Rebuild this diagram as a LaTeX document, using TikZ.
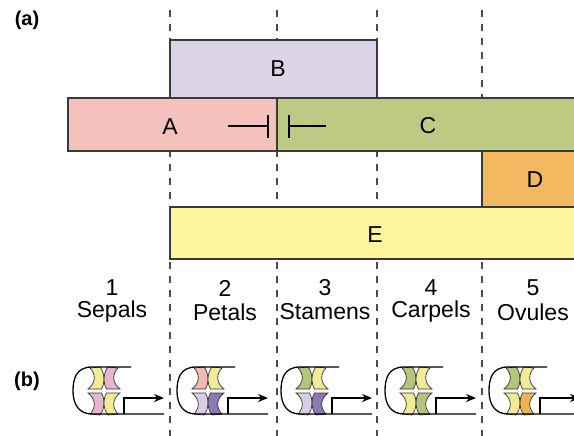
\documentclass[tikz,border=0pt]{standalone}
\usepackage{fontspec}
\setmainfont{Liberation Sans}
\usetikzlibrary{arrows.meta}

\definecolor{colA}{HTML}{F4C1BC}
\definecolor{colB}{HTML}{DCD3E8}
\definecolor{colC}{HTML}{BDCA84}
\definecolor{colD}{HTML}{F2B961}
\definecolor{colE}{HTML}{FDF59D}
\definecolor{edgegray}{HTML}{3A3A3A}
\definecolor{ylw}{HTML}{F1EB98}
\definecolor{mauve}{HTML}{E7B6CB}
\definecolor{salmon}{HTML}{F1B8B4}
\definecolor{lav}{HTML}{D9CDE6}
\definecolor{purp}{HTML}{8E76BA}
\definecolor{grn}{HTML}{B4C47C}
\definecolor{orng}{HTML}{F0B252}

\tikzset{
  gridline/.style={draw=black!70, line width=1.1pt, dash pattern=on 7pt off 7pt},
  genebar/.style={draw=edgegray, line width=1.2pt},
  lbl/.style={font=\fontsize{23}{25}\selectfont},
  panel/.style={font=\fontsize{20}{22}\selectfont\bfseries},
  lobe/.style={draw=black!80, line width=0.7pt},
  outline/.style={draw=black, line width=1.3pt},
}

% one quarter of the whorl, upper left
\newcommand{\lobepath}[1]{%
  \filldraw[lobe, fill=#1] (-16,-2) .. controls (-8,-8) and (-8,-17) .. (-14,-23)
    -- (-4,-24) .. controls (1,-18) and (1,-8) .. (-2.5,-2) -- cycle;}

\begin{document}
\begin{tikzpicture}[x=1pt, y=-1pt]
	\clip (0,0) rectangle (574,436);
	\useasboundingbox (0,0) rectangle (574,436);

	% whorl boundaries
	\foreach \x in {170,277,377,482}
		\draw[gridline] (\x,10) -- (\x,436);

	% expression domains
	\draw[genebar, fill=colB] (170,40) rectangle (377,98);
	\draw[genebar, fill=colA] (68,98) rectangle (277,151);
	\draw[genebar, fill=colC] (277,98) rectangle (590,151);
	\draw[genebar, fill=colD] (482,151) rectangle (590,207);
	\draw[genebar, fill=colE] (170,207) rectangle (590,259);

	\node[lbl] (geneB) at (278,69) {B};
	\node[lbl] (geneA) at (170,127) {A};
	\node[lbl] (geneC) at (428,126) {C};
	\node[lbl] (geneD) at (535,180) {D};
	\node[lbl] (geneE) at (375,235) {E};

	% mutual repression of A and C
	\draw[line width=1.2pt] (228,126) -- (268,126);
	\draw[line width=1.2pt] (268,115) -- (268,138);
	\draw[line width=1.2pt] (289,115) -- (289,138);
	\draw[line width=1.2pt] (289,126) -- (326,126);

	\node[panel] (panelA) at (27,20) {(a)};
	\node[panel] (panelB) at (27,381) {(b)};

	% organ identities
	\foreach \x/\n/\organ in {112/1/Sepals, 225/2/Petals, 325/3/Stamens, 431/4/Carpels, 533/5/Ovules} {
		\node[lbl] (num\n) at (\x,288) {\n};
		\node[lbl] (organ\n) at (\x,312) {\organ};
	}

	% floral whorls
	\foreach \i/\ctl/\ctr/\cbl/\cbr in {0/ylw/mauve/mauve/ylw, 1/salmon/ylw/lav/purp,
			2/grn/ylw/lav/purp, 3/grn/ylw/ylw/grn, 4/grn/ylw/ylw/orng} {
		\begin{scope}[shift={(104+104*\i,391)}]
			\lobepath{\ctl}
			\begin{scope}[xscale=-1] \lobepath{\ctr} \end{scope}
			\begin{scope}[yscale=-1] \lobepath{\cbl} \end{scope}
			\begin{scope}[xscale=-1, yscale=-1] \lobepath{\cbr} \end{scope}
			\draw[outline] (27,-24) -- (-12,-24) .. controls (-28,-24) and (-31,-12) .. (-31,0)
				.. controls (-31,12) and (-26,23) .. (-12,23) -- (60,23);
			\draw[outline, -{Stealth[length=10pt, width=8pt]}] (20,23) -- (20,7) -- (60,7);
		\end{scope}
	}
\end{tikzpicture}
\end{document}
